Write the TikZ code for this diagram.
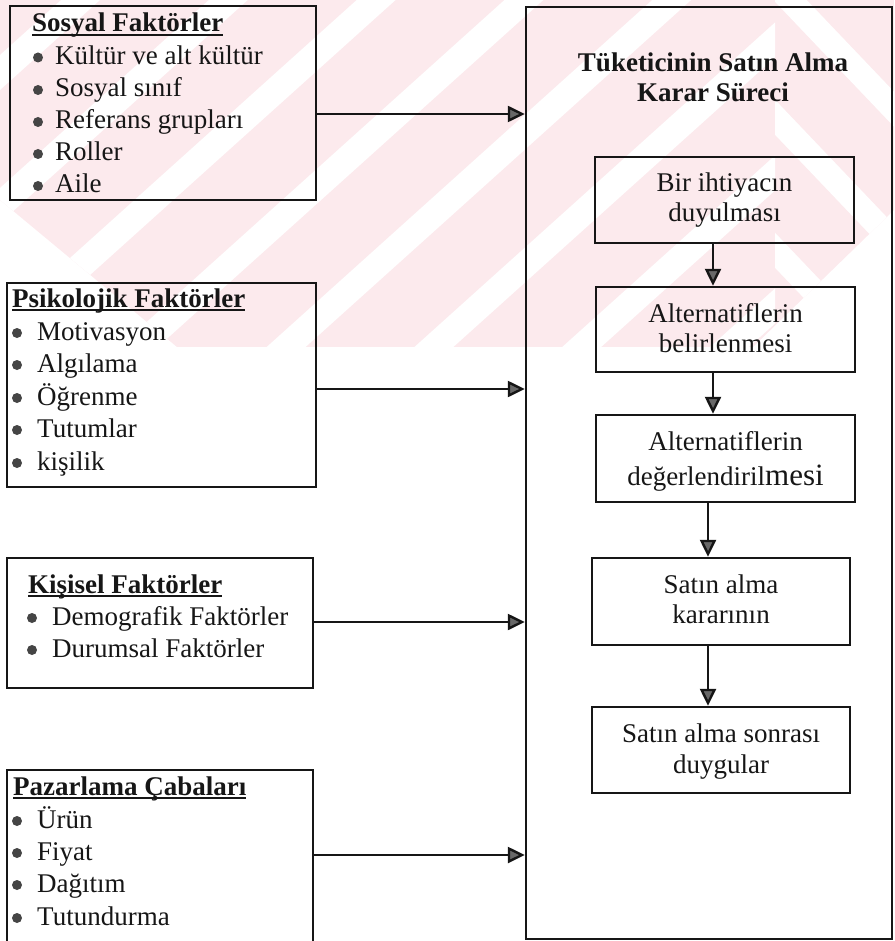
\documentclass[tikz,border=0pt]{standalone}
\usepackage{fontspec}
\setmainfont{Liberation Serif}
\usetikzlibrary{arrows.meta}

\definecolor{wmpink}{RGB}{252,234,237}
\definecolor{ink}{RGB}{22,22,22}

% heading underline drawn just under the baseline
\newcommand\hdline[1]{\setbox0\hbox{#1}\rlap{\vrule height -1.6pt depth 3.6pt width \wd0}\box0}

\tikzset{
  box/.style={draw=ink, line width=2.4pt, rectangle, inner sep=0pt},
  itemtxt/.style={inner sep=0pt, anchor=base west, text=ink, font=\fontsize{27}{30}\selectfont},
  headtxt/.style={itemtxt, font=\fontsize{27}{30}\selectfont\bfseries},
  ctxt/.style={inner sep=0pt, anchor=base, text=ink, font=\fontsize{27}{30}\selectfont},
  titletxt/.style={ctxt, font=\fontsize{27}{30}\selectfont\bfseries},
  dot/.style={circle, fill=ink!80, inner sep=0pt, minimum size=10pt},
  arr/.style={draw=ink, line width=2.4pt, -{Triangle[length=17pt,width=16pt,fill=ink!65]}}
}

\begin{document}
\begin{tikzpicture}[x=1pt,y=-1pt]
\useasboundingbox (0,0) rectangle (894,941);
\clip (0,0) rectangle (894,941);

% striped background band
\begin{scope}
  \clip (0,0) -- (894,0) -- (894,210) -- (753,347) -- (177,347) -- (0,200) -- cycle;
  \fill[wmpink] (0,0) rectangle (894,347);
  \begin{scope}
    \clip (0,0) rectangle (775,347);
    \foreach \b in {-78,55,...,1119}
      \fill[white] (0,\b) -- (900,{\b-810}) -- (900,{\b-775}) -- (0,{\b+35}) -- cycle;
  \end{scope}
  \begin{scope}
    \clip (775,0) rectangle (894,347);
    \foreach \k in {-2,...,2}
      \fill[white] (680,{133*\k}) -- (900,{231+133*\k}) -- (900,{266+133*\k}) -- (680,{35+133*\k}) -- cycle;
  \end{scope}
\end{scope}

% ---------- decision process frame ----------
\node[box, minimum width=366pt, minimum height=932pt] (big) at (709,473) {};
\node[titletxt] (tt1) at (713,72) {Tüketicinin Satın Alma};
\node[titletxt] (tt2) at (713,102) {Karar Süreci};

\node[box, minimum width=259pt, minimum height=86pt] (b1) at (724.5,200) {};
\node[ctxt] (b1a) at (724.5,192) {Bir ihtiyacın};
\node[ctxt] (b1b) at (724.5,222) {duyulması};

\node[box, minimum width=259pt, minimum height=85pt] (b2) at (725.5,329.5) {};
\node[ctxt] (b2a) at (725.5,322) {Alternatiflerin};
\node[ctxt] (b2b) at (725.5,352) {belirlenmesi};

\node[box, minimum width=259pt, minimum height=87pt] (b3) at (725.5,458.5) {};
\node[ctxt] (b3a) at (725.5,450) {Alternatiflerin};
\node[ctxt] (b3b) at (725.5,485) {değerlendiril{\fontsize{31}{31}\selectfont mesi}};

\node[box, minimum width=258pt, minimum height=87pt] (b4) at (721,601.5) {};
\node[ctxt] (b4a) at (721,593) {Satın alma};
\node[ctxt] (b4b) at (721,623) {kararının};

\node[box, minimum width=258pt, minimum height=86pt] (b5) at (721,750) {};
\node[ctxt] (b5a) at (721,742) {Satın alma sonrası};
\node[ctxt] (b5b) at (721,773) {duygular};

\draw[arr] (b1.south) ++(-11.5,0) coordinate (a1) -- (a1 |- b2.north);
\draw[arr] (b2.south) ++(-12.5,0) coordinate (a2) -- (a2 |- b3.north);
\draw[arr] (b3.south) ++(-17.5,0) coordinate (a3) -- (a3 |- b4.north);
\draw[arr] (b4.south) ++(-13,0) coordinate (a4) -- (a4 |- b5.north);

% ---------- social factors ----------
\node[box, minimum width=306pt, minimum height=194pt] (sos) at (163,103) {};
\node[headtxt] (s0) at (32,32) {\hdline{Sosyal Faktörler}};
\node[itemtxt] (s1) at (55,64.5) {Kültür ve alt kültür};
\node[itemtxt] (s2) at (55,97) {Sosyal sınıf};
\node[itemtxt] (s3) at (55,129) {Referans grupları};
\node[itemtxt] (s4) at (55,161) {Roller};
\node[itemtxt] (s5) at (55,193) {Aile};
\foreach \i/\y in {1/64.5,2/97,3/129,4/161,5/193}
  \node[dot] (sd\i) at (38,{\y-7}) {};

% ---------- psychological factors ----------
\node[box, minimum width=309pt, minimum height=204pt] (psi) at (161.5,385) {};
\node[headtxt] (p0) at (12,307) {\hdline{Psikolojik Faktörler}};
\node[itemtxt] (p1) at (37,340) {Motivasyon};
\node[itemtxt] (p2) at (37,372) {Algılama};
\node[itemtxt] (p3) at (37,405) {Öğrenme};
\node[itemtxt] (p4) at (37,437) {Tutumlar};
\node[itemtxt] (p5) at (37,470) {kişilik};
\foreach \i/\y in {1/340,2/372,3/405,4/437,5/470}
  \node[dot] (pd\i) at (17,{\y-7}) {};

% ---------- personal factors ----------
\node[box, minimum width=306pt, minimum height=130pt] (kis) at (160,623) {};
\node[headtxt] (k0) at (28,593) {\hdline{Kişisel Faktörler}};
\node[itemtxt] (k1) at (52,625) {Demografik Faktörler};
\node[itemtxt] (k2) at (52,657) {Durumsal Faktörler};
\foreach \i/\y in {1/625,2/657}
  \node[dot] (kd\i) at (32,{\y-7}) {};

% ---------- marketing efforts ----------
\node[box, minimum width=306pt, minimum height=190pt] (paz) at (160,865) {};
\node[headtxt] (m0) at (13,795) {\hdline{Pazarlama Çabaları}};
\node[itemtxt] (m1) at (37,828) {Ürün};
\node[itemtxt] (m2) at (37,860) {Fiyat};
\node[itemtxt] (m3) at (37,892) {Dağıtım};
\node[itemtxt] (m4) at (37,925) {Tutundurma};
\foreach \i/\y in {1/828,2/860,3/892,4/925}
  \node[dot] (md\i) at (17,{\y-7}) {};

% ---------- influences on the process ----------
\draw[arr] (sos.east) ++(0,11) coordinate (c1) -- (c1 -| big.west);
\draw[arr] (psi.east) ++(0,4) coordinate (c2) -- (c2 -| big.west);
\draw[arr] (kis.east) ++(0,-1) coordinate (c3) -- (c3 -| big.west);
\draw[arr] (paz.east) ++(0,-10) coordinate (c4) -- (c4 -| big.west);
\end{tikzpicture}
\end{document}
